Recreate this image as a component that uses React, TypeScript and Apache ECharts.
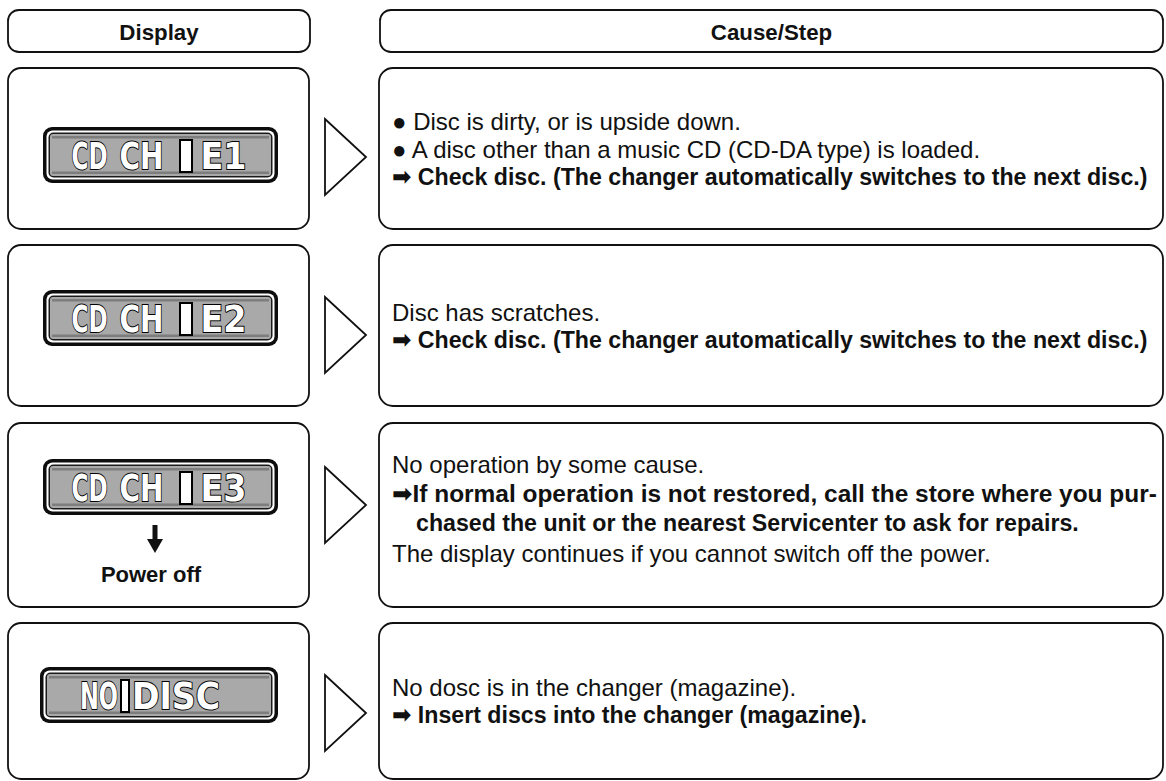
import React, { useEffect, useRef } from "react";
import * as echarts from "echarts";

// ---------- content ----------
const HEADER_LABELS = ["Display", "Cause/Step"];
const DISPLAY_GROUPS: string[][] = [
  ["CD", "CH", "E1"],
  ["CD", "CH", "E2"],
  ["CD", "CH", "E3"],
  ["NO", "DISC"],
];
const DISPLAY_NOTES = ["", "", "Power off", ""];
const CAUSE_TEXT: string[][] = [
  [
    "● Disc is dirty, or is upside down.",
    "● A disc other than a music CD (CD-DA type) is loaded.",
    "➡ Check disc. (The changer automatically switches to the next disc.)",
  ],
  ["Disc has scratches.", "➡ Check disc. (The changer automatically switches to the next disc.)"],
  [
    "No operation by some cause.",
    "➡If normal operation is not restored, call the store where you pur-",
    "chased the unit or the nearest Servicenter to ask for repairs.",
    "The display continues if you cannot switch off the power.",
  ],
  ["No dosc is in the changer (magazine).", "➡ Insert discs into the changer (magazine)."],
];
const CAUSE_BOLD: boolean[][] = [
  [false, false, true],
  [false, true],
  [false, true, true, false],
  [false, true],
];
const CAUSE_INDENT: boolean[][] = [
  [false, false, false],
  [false, false],
  [false, false, true, false],
  [false, false],
];
// lines that are justified to the right edge of the box
const CAUSE_JUSTIFY: boolean[][] = [
  [false, false, false],
  [false, false],
  [false, true, false, false],
  [false, false],
];

// ---------- layout ----------
const W = 1166;
const H = 781;
const LEFT_X0 = 8;
const LEFT_X1 = 309;
const RIGHT_X0 = 379;
const RIGHT_X1 = 1163;
const HEADER_Y0 = 10;
const HEADER_Y1 = 52;
const ROW_Y: [number, number][] = [
  [68, 229],
  [245, 406],
  [423, 607],
  [623, 779],
];
const LCD_TOP = [127, 290, 459, 667];
const LCD_H = 56;
const LINE_Y: number[][] = [
  [121, 149, 177],
  [312, 340],
  [464, 494, 523, 553],
  [687, 715],
];
const TRI_TIP = [157, 335, 505, 713];
const TEXT_X = 392;
const INDENT_X = 416;
const JUSTIFY_END = 1157;
const FONT_SIZE = 24;
const BOLD_SCALE = 0.965;

const FONT = '"Liberation Sans", "DejaVu Sans", sans-serif';
const LCD_FONT = '"DejaVu Sans", sans-serif';
const INK = "#111";

let measureCtx: CanvasRenderingContext2D | null = null;
function measure(text: string, font: string, bold: boolean, size: number): number {
  if (!measureCtx) {
    const c = document.createElement("canvas");
    measureCtx = c.getContext("2d");
  }
  if (!measureCtx) return text.length * size * 0.55;
  measureCtx.font = `${bold ? "bold " : ""}${size}px ${font}`;
  return measureCtx.measureText(text).width;
}

function lcd(rowIdx: number): any[] {
  const groups = DISPLAY_GROUPS[rowIdx];
  const isNo = groups[0] === "NO";
  const x0 = isNo ? 40 : 43;
  const x1 = 278;
  const y0 = LCD_TOP[rowIdx];
  const w = x1 - x0;
  const els: any[] = [];
  els.push({ type: "rect", shape: { x: x0, y: y0, width: w, height: LCD_H, r: 9 }, style: { fill: "#0d0d0d" } });
  els.push({ type: "rect", shape: { x: x0 + 3.5, y: y0 + 3.5, width: w - 7, height: LCD_H - 7, r: 6 }, style: { fill: "#fff" } });
  els.push({ type: "rect", shape: { x: x0 + 5.5, y: y0 + 5.5, width: w - 11, height: LCD_H - 11, r: 5 }, style: { fill: "#1a1a1a" } });
  els.push({ type: "rect", shape: { x: x0 + 7, y: y0 + 7, width: w - 14, height: LCD_H - 14, r: 3 }, style: { fill: "#a9a9a9" } });
  els.push({ type: "rect", shape: { x: x0 + 9, y: y0 + 9, width: w - 18, height: 2.5 }, style: { fill: "#7d7d7d" } });
  els.push({ type: "rect", shape: { x: x0 + 9, y: y0 + LCD_H - 11.5, width: w - 18, height: 2.5 }, style: { fill: "#7d7d7d" } });
  const cy = y0 + LCD_H / 2 + 1;
  const fs = 38;
  const glyph = (text: string, cx: number, targetW: number): any => ({
    type: "text",
    x: cx,
    y: cy,
    scaleX: targetW / measure(text, LCD_FONT, true, fs),
    style: {
      text,
      fontFamily: LCD_FONT,
      fontWeight: "bold",
      fontSize: fs,
      align: "center",
      verticalAlign: "middle",
      fill: "#fff",
      stroke: "#000",
      lineWidth: 2,
    },
  });
  const block = (bx: number, bw: number) => ({
    type: "rect",
    shape: { x: bx, y: cy - 16, width: bw, height: 32 },
    style: { fill: "#fff", stroke: "#000", lineWidth: 2 },
  });
  if (isNo) {
    els.push(glyph(groups[0], 99, 38));
    els.push(block(121, 8));
    els.push(glyph(groups[1], 176, 88));
  } else {
    els.push(glyph(groups[0], 89.5, 36));
    els.push(glyph(groups[1], 141.5, 44));
    els.push(block(180, 12));
    els.push(glyph(groups[2], 223.5, 46));
  }
  return els;
}

function buildGraphic(): any[] {
  const els: any[] = [];
  els.push({ type: "rect", shape: { x: 0, y: 0, width: W, height: H }, style: { fill: "#fff" }, silent: true });
  const headerBoxes: [number, number][] = [
    [LEFT_X0, LEFT_X1 + 1],
    [RIGHT_X0 + 1, RIGHT_X1],
  ];
  headerBoxes.forEach(([a, b], i) => {
    els.push({
      type: "rect",
      shape: { x: a, y: HEADER_Y0, width: b - a, height: HEADER_Y1 - HEADER_Y0, r: 11 },
      style: { fill: "#fff", stroke: INK, lineWidth: 1.8 },
    });
    els.push({
      type: "text",
      x: (a + b) / 2,
      y: (HEADER_Y0 + HEADER_Y1) / 2 + 1,
      scaleX: 0.97,
      style: {
        text: HEADER_LABELS[i],
        fontFamily: FONT,
        fontWeight: "bold",
        fontSize: 23,
        fill: INK,
        align: "center",
        verticalAlign: "middle",
      },
    });
  });

  ROW_Y.forEach(([y0, y1], r) => {
    els.push({
      type: "rect",
      shape: { x: LEFT_X0, y: y0, width: LEFT_X1 - LEFT_X0, height: y1 - y0, r: 13 },
      style: { fill: "#fff", stroke: INK, lineWidth: 1.8 },
    });
    els.push({
      type: "rect",
      shape: { x: RIGHT_X0, y: y0, width: RIGHT_X1 - RIGHT_X0, height: y1 - y0, r: 14 },
      style: { fill: "#fff", stroke: INK, lineWidth: 1.8 },
    });
    const tip = TRI_TIP[r];
    els.push({
      type: "polygon",
      shape: {
        points: [
          [325, tip - 38],
          [366, tip],
          [325, tip + 38],
        ],
      },
      style: { fill: "#fff", stroke: INK, lineWidth: 1.8 },
    });
    els.push(...lcd(r));
    if (DISPLAY_NOTES[r]) {
      const ax = 155;
      els.push({ type: "rect", shape: { x: ax - 2.5, y: 525, width: 5, height: 17 }, style: { fill: INK } });
      els.push({
        type: "polygon",
        shape: {
          points: [
            [ax - 8, 539],
            [ax + 8, 539],
            [ax, 553],
          ],
        },
        style: { fill: INK },
      });
      els.push({
        type: "text",
        x: 151,
        y: 574,
        style: {
          text: DISPLAY_NOTES[r],
          fontFamily: FONT,
          fontWeight: "bold",
          fontSize: 22,
          fill: INK,
          align: "center",
          verticalAlign: "middle",
        },
      });
    }
    CAUSE_TEXT[r].forEach((t, k) => {
      const bold = CAUSE_BOLD[r][k];
      const x = CAUSE_INDENT[r][k] ? INDENT_X : TEXT_X;
      let sx = bold ? BOLD_SCALE : 1;
      if (CAUSE_JUSTIFY[r][k]) {
        sx = (JUSTIFY_END - x) / measure(t, FONT, bold, FONT_SIZE);
      }
      els.push({
        type: "text",
        x,
        y: LINE_Y[r][k],
        scaleX: sx,
        style: {
          text: t,
          fontFamily: FONT,
          fontWeight: bold ? "bold" : "normal",
          fontSize: FONT_SIZE,
          fill: INK,
          align: "left",
          verticalAlign: "middle",
        },
      });
    });
  });
  return els;
}

export default function App() {
  const ref = useRef<HTMLDivElement>(null);
  useEffect(() => {
    if (!ref.current) return;
    const chart = echarts.init(ref.current, undefined, { renderer: "svg" });
    chart.setOption({
      animation: false,
      backgroundColor: "#fff",
      graphic: { elements: buildGraphic() },
    });
    return () => chart.dispose();
  }, []);
  return (
    <div
      ref={ref}
      style={{ position: "fixed", left: 0, top: 0, width: W, height: H, background: "#fff" }}
    />
  );
}
